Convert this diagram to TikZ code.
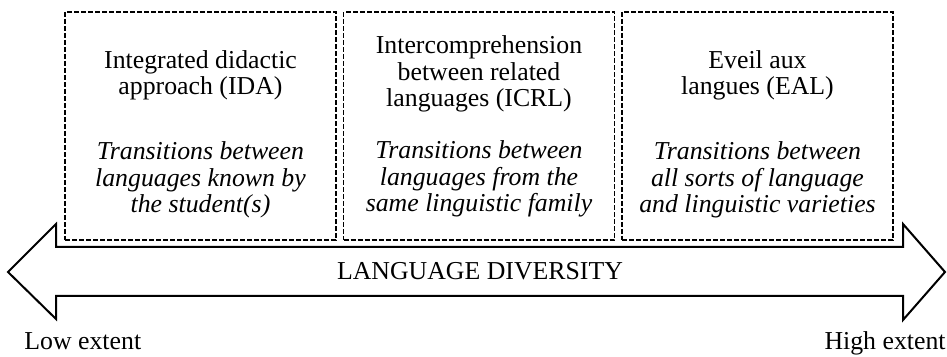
\documentclass[tikz,border=0pt]{standalone}
\usepackage{fontspec}
\setmainfont{Liberation Serif}
\begin{document}
\begin{tikzpicture}[x=0.5pt,y=-0.5pt,
    approach/.style={draw, dashed, dash pattern=on 2.5pt off 1pt, line width=0.7pt,
                     minimum width=135.5pt, minimum height=114pt, inner sep=0pt},
    heading/.style={align=center, anchor=base, inner sep=0pt,
                    font=\fontsize{12.9}{13.3}\selectfont},
    detail/.style={heading, font=\fontsize{12.9}{13.3}\selectfont\itshape}]
    \useasboundingbox (0,0) rectangle (947,357);

    % the three approaches
    \node[approach] (IDA) at (200.5,126) {};
    \node[approach] (ICRL) at (479,126) {};
    \node[approach] (EAL) at (757.5,126) {};

    % text anchored on the last line
    \node[heading] (IDAt) at (200.5,95) {Integrated didactic\\approach (IDA)};
    \node[detail] (IDAd) at (200.5,213) {Transitions between\\languages known by\\the student(s)};
    \node[heading] (ICRLt) at (479,107) {Intercomprehension\\between related\\languages (ICRL)};
    \node[detail] (ICRLd) at (479,212) {Transitions between\\languages from the\\same linguistic family};
    \node[heading] (EALt) at (757.5,95) {Eveil aux\\langues (EAL)};
    \node[detail] (EALd) at (757.5,213) {Transitions between\\all sorts of language\\and linguistic varieties};

    % double arrow
    \draw[line width=1pt, line join=miter] (56,247) -- (56,224) -- (8,272) -- (56,319) -- (56,296)
        -- (903,296) -- (903,320) -- (945,272) -- (903,224) -- (903,247) -- cycle;
    \node[heading] (LD) at (480,280) {LANGUAGE DIVERSITY};

    \node[heading, anchor=base west] (low) at (24,350) {Low extent};
    \node[heading, anchor=base east] (high) at (946,350) {High extent};
\end{tikzpicture}
\end{document}
